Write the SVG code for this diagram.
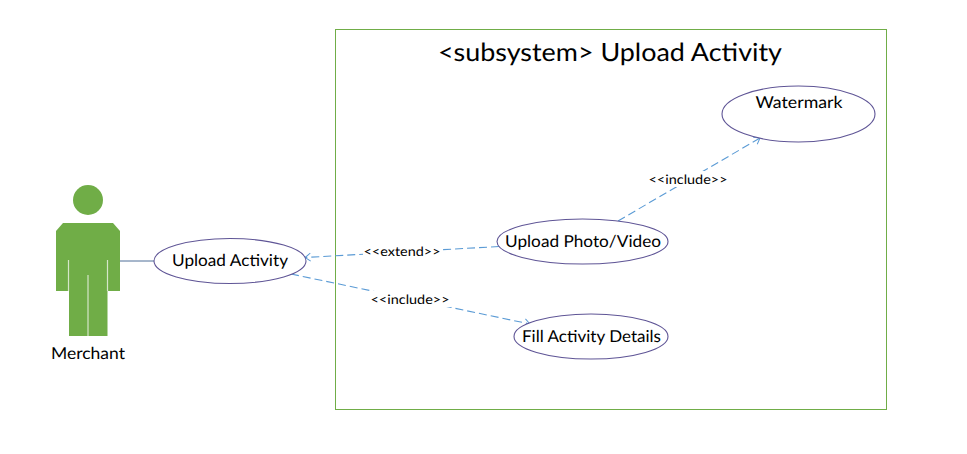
<svg xmlns="http://www.w3.org/2000/svg" width="967" height="454" viewBox="0 0 967 454">
  <style>
    text { font-family: "Lato", "Open Sans", sans-serif; fill: #000; text-anchor: middle; text-rendering: geometricPrecision; }
    .uc { fill: #fff; stroke: #5f5596; stroke-width: 1.1; }
    .t { font-size: 16.500px; }
    .s { font-size: 13px; }
    .dep { fill: none; stroke: #5b9bd5; stroke-width: 1.1; stroke-dasharray: 8 4; marker-end: url(#open); }
    .gap { fill: #fff; }
  </style>
  <defs>
    <marker id="open" markerWidth="10" markerHeight="10" refX="7" refY="5" orient="auto" markerUnits="userSpaceOnUse">
      <path d="M1.500 1 L7 5 L1.500 9" fill="none" stroke="#5b9bd5" stroke-width="1"/>
    </marker>
  </defs>
  <rect width="967" height="454" fill="#fff"/>
  <g id="subsystem">
    <rect x="335.5" y="29.5" width="551" height="380" fill="#fff" stroke="#70ad47" stroke-width="1"/>
    <text x="610" y="60.500" font-size="25" textLength="344" lengthAdjust="spacingAndGlyphs">&lt;subsystem&gt; Upload Activity</text>
  </g>
  <g id="connectors">
    <line x1="120" y1="261" x2="154" y2="261" stroke="#4f6f98" stroke-width="1"/>
    <line class="dep" x1="499" y1="246.500" x2="305" y2="257.500"/>
    <line class="dep" x1="291" y1="274" x2="530" y2="324"/>
    <line class="dep" x1="618" y1="221" x2="760" y2="138"/>
  </g>
  <g id="actor-merchant">
    <circle cx="88" cy="200" r="15" fill="#70ad47"/>
    <path d="M63 223 H113 L120 231 V291 H107.500 V336 H69 V291 H56 V231 Z" fill="#70ad47"/>
    <path d="M68.500 260 V291 M107.500 260 V291 M88 275 V336" stroke="#d5e6c9" stroke-width="1.200" fill="none"/>
    <text class="t" x="88" y="359" textLength="74" lengthAdjust="spacingAndGlyphs">Merchant</text>
  </g>
  <g id="uc-upload-activity">
    <ellipse class="uc" cx="230" cy="261" rx="76" ry="22.500"/>
    <text class="t" x="230" y="266" textLength="116" lengthAdjust="spacingAndGlyphs">Upload Activity</text>
  </g>
  <g id="uc-upload-photo-video">
    <ellipse class="uc" cx="582.500" cy="241.500" rx="85.500" ry="22.500"/>
    <text class="t" x="583" y="247" textLength="156" lengthAdjust="spacingAndGlyphs">Upload Photo/Video</text>
  </g>
  <g id="uc-fill-activity-details">
    <ellipse class="uc" cx="591" cy="336.500" rx="77" ry="22.500"/>
    <text class="t" x="591.500" y="342" textLength="139" lengthAdjust="spacingAndGlyphs">Fill Activity Details</text>
  </g>
  <g id="uc-watermark">
    <ellipse class="uc" cx="798.500" cy="114" rx="76.500" ry="28"/>
    <text class="t" x="799" y="107.500" textLength="87" lengthAdjust="spacingAndGlyphs">Watermark</text>
  </g>
  <g id="label-extend">
    <rect class="gap" x="363" y="243" width="79" height="15"/>
    <text class="s" x="402" y="255.500" textLength="77" lengthAdjust="spacingAndGlyphs">&lt;&lt;extend&gt;&gt;</text>
  </g>
  <g id="label-include-details">
    <rect class="gap" x="370" y="291" width="81" height="16"/>
    <text class="s" x="410" y="303.500" textLength="79" lengthAdjust="spacingAndGlyphs">&lt;&lt;include&gt;&gt;</text>
  </g>
  <g id="label-include-watermark">
    <rect class="gap" x="648" y="171" width="81" height="16"/>
    <text class="s" x="688" y="183.500" textLength="79" lengthAdjust="spacingAndGlyphs">&lt;&lt;include&gt;&gt;</text>
  </g>
</svg>
